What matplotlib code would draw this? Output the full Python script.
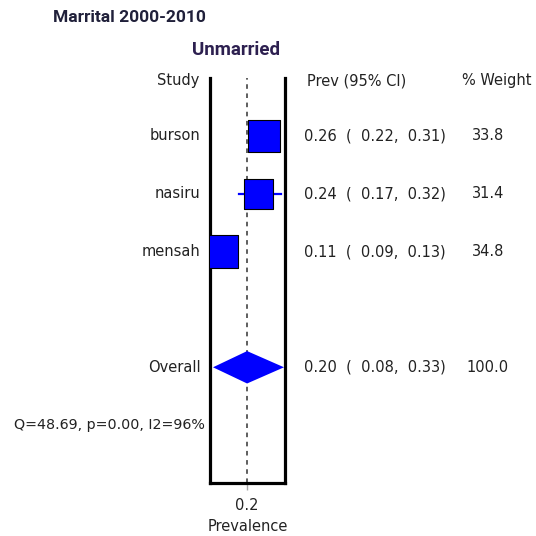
import numpy as np
import matplotlib.pyplot as plt
from matplotlib import transforms
from matplotlib.patches import Polygon

# data
studies = ['burson', 'nasiru', 'mensah']
prev = [0.26, 0.24, 0.11]
ci_lo = [0.22, 0.17, 0.09]
ci_hi = [0.31, 0.32, 0.13]
weight = [33.8, 31.4, 34.8]
overall = 0.20
overall_lo = 0.08
overall_hi = 0.33
overall_weight = 100.0
het_text = 'Q=48.69, p=0.00, I2=96%'

plt.rcParams['font.family'] = ['DejaVu Sans']
DPI = 100
fig = plt.figure(figsize=(5.36, 5.36), dpi=DPI)
ax = fig.add_axes([210 / 536, 1 - 483 / 536, 75 / 536, 405 / 536])
ax.set_xlim(0.0694, 0.3335)
ax.set_ylim(7, 0)

rows = np.arange(1, len(studies) + 1)
overall_row = len(studies) + 2
het_row = overall_row + 1

# CI lines and weighted squares
for r, lo, hi in zip(rows, ci_lo, ci_hi):
    ax.plot([lo, hi], [r, r], color='#0000ff', lw=1.6, zorder=2)
side_pt = np.array(weight) * 0.95 * 72 / DPI
ax.scatter(prev, rows, marker='s', s=side_pt ** 2, color='#0000ff',
           edgecolor='black', linewidth=0.8, zorder=3)

# pooled diamond
ax.add_patch(Polygon([(overall_lo, overall_row), (overall, overall_row - 0.28),
                      (overall_hi, overall_row), (overall, overall_row + 0.28)],
                     closed=True, facecolor='#0000ff', edgecolor='none', zorder=3))

ax.axvline(overall, color='#333333', lw=1.1, ls=(0, (3, 3)), zorder=1)

for side in ['left', 'right', 'bottom']:
    ax.spines[side].set_linewidth(2.3)
    ax.spines[side].set_color('black')
ax.spines['top'].set_visible(False)
ax.set_yticks([])
ax.set_xticks([overall])
ax.set_xticklabels(['0.2'])
ax.tick_params(axis='x', length=5, width=1, color='#aaaaaa', pad=6, labelsize=10.5,
               labelcolor='#222222')
ax.set_xlabel('Prevalence', fontsize=10.5, labelpad=4, color='#222222')

# text columns
tr = transforms.blended_transform_factory(fig.transFigure, ax.transData)
fs = 10.5
tc = '#222222'
xs = 200 / 536
xp = 304 / 536
xw = 488 / 536
ax.text(199 / 536, 0.05, 'Study', transform=tr, ha='right', va='center', fontsize=fs, color=tc)
ax.text(307 / 536, 0.05, 'Prev (95% CI)', transform=tr, ha='left', va='center', fontsize=fs, color=tc)
ax.text(462 / 536, 0.05, '% Weight', transform=tr, ha='left', va='center', fontsize=fs, color=tc)
for r, name, p, lo, hi, w in zip(rows, studies, prev, ci_lo, ci_hi, weight):
    ax.text(xs, r, name, transform=tr, ha='right', va='center', fontsize=fs, color=tc)
    ax.text(xp, r, f'{p:.2f}  (  {lo:.2f},  {hi:.2f})', transform=tr,
            ha='left', va='center', fontsize=fs, color=tc)
    ax.text(xw, r, f'{w:.1f}', transform=tr, ha='center', va='center', fontsize=fs, color=tc)
ax.text(201 / 536, overall_row, 'Overall', transform=tr, ha='right', va='center',
        fontsize=fs, color=tc)
ax.text(xp, overall_row, f'{overall:.2f}  (  {overall_lo:.2f},  {overall_hi:.2f})',
        transform=tr, ha='left', va='center', fontsize=fs, color=tc)
ax.text(xw, overall_row, f'{overall_weight:.1f}', transform=tr, ha='center',
        va='center', fontsize=fs, color=tc)
ax.text(205 / 536, het_row, het_text, transform=tr, ha='right', va='center',
        fontsize=10.3, color=tc)

fig.text(53 / 536, 1 - 17 / 536, 'Marrital 2000-2010', ha='left', va='center',
         fontsize=12.5, fontweight='bold', color='#20203a', family='Roboto')
fig.text(236 / 536, 1 - 50 / 536, 'Unmarried', ha='center', va='center',
         fontsize=13.5, fontweight='bold', color='#2d2050', family='Roboto')

fig.savefig('out.png', dpi=DPI)
